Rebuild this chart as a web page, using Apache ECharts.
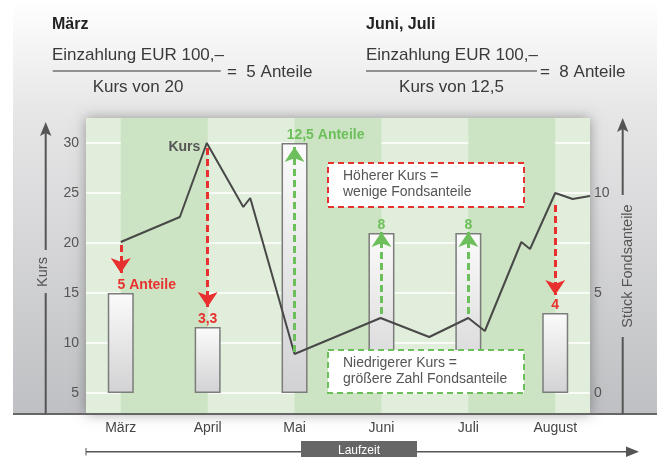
<!DOCTYPE html>
<html><head><meta charset="utf-8">
<script src="https://cdn.jsdelivr.net/npm/echarts@6/dist/echarts.min.js"></script>
<style>html,body{margin:0;padding:0;background:#fff}#c{width:657px;height:457px}</style>
</head><body><div id="c"></div>
<script>
// ---- data ----
const months = ['März', 'April', 'Mai', 'Juni', 'Juli', 'August'];
const kursX = [0, 0.68, 0.99, 1.41, 1.49, 2.0, 2.99, 3.55, 4.0, 4.19, 4.61, 4.71, 5.0, 5.2, 5.4];
const kursY = [20.1, 22.6, 30, 23.6, 24.5, 8.9, 12.5, 10.6, 12.5, 11.2, 20.1, 19.4, 25.0, 24.4, 24.7];
const anteile = [5, 3.3, 12.5, 8, 8, 4];
const anteilLabels = ['5 Anteile', '3,3', '12,5 Anteile', '8', '8', '4'];
const leftTicks = [5, 10, 15, 20, 25, 30];
const rightTicks = [0, 5, 10];
const arrowStart = [19.8, 29.5, 9.1, 12.9, 12.9, 23.8];
const arrowEnd = [17.0, 13.6, 29.6, 21.1, 21.1, 14.8];
const arrowDown = [true, true, false, false, false, true];

const RED = '#e8312f', GREEN = '#6cbf5a';
const FONT = '"Liberation Sans", Arial, sans-serif';

const chart = echarts.init(document.getElementById('c'), null, { renderer: 'canvas' });

const redLines = [], greenLines = [];
months.forEach((m, i) => {
  const item = { coords: [[i, arrowStart[i]], [i, arrowEnd[i]]] };
  (arrowDown[i] ? redLines : greenLines).push(item);
});

const bands = [];
for (let i = 0; i < 6; i += 2) bands.push([{ xAxis: i }, { xAxis: i + 1 }]);

function txt(x, y, text, font, fill, align, z) {
  return { type: 'text', x: x, y: y, z: z || 20,
    style: { text: text, font: font, fill: fill, textAlign: align || 'left', textVerticalAlign: 'middle' } };
}

const option = {
  animation: false,
  grid: { left: 86, right: 67, top: 118, bottom: 43, show: true, backgroundColor: '#e1eedb',
    borderWidth: 0, shadowBlur: 12, shadowColor: 'rgba(0,0,0,0.35)', z: -5 },
  xAxis: {
    type: 'value', min: -0.4, max: 5.4,
    axisLine: { show: false }, axisTick: { show: false }, splitLine: { show: false },
    axisLabel: { customValues: [0, 1, 2, 3, 4, 5], formatter: v => months[Math.round(v)],
      color: '#444', fontSize: 14, fontFamily: FONT, margin: 7 }
  },
  yAxis: [{
    type: 'value', min: 2.9, max: 32.5, position: 'left',
    name: 'Kurs', nameLocation: 'middle', nameRotate: 90, nameGap: 36,
    nameTextStyle: { color: '#555', fontSize: 14.5, fontFamily: FONT, padding: [0, 12, 0, 0] },
    axisLine: { show: false }, axisTick: { show: false, customValues: leftTicks },
    axisLabel: { customValues: leftTicks, color: '#555', fontSize: 14, fontFamily: FONT, margin: 7 },
    splitLine: { show: true, lineStyle: { color: '#ffffff', width: 1.5 } }
  }, {
    type: 'value', min: -1.05, max: 13.75, position: 'right',
    name: 'Stück Fondsanteile', nameLocation: 'middle', nameRotate: 90, nameGap: 26,
    nameTextStyle: { color: '#555', fontSize: 14.5, fontFamily: FONT },
    axisLine: { show: false }, axisTick: { show: false, customValues: rightTicks },
    axisLabel: { customValues: rightTicks, color: '#555', fontSize: 14, fontFamily: FONT, margin: 4 },
    splitLine: { show: false }
  }],
  series: [
    { type: 'line', data: [], z: -2, silent: true,
      markArea: { silent: true, itemStyle: { color: '#cce4c3' }, data: bands } },
    { type: 'bar', yAxisIndex: 1, barWidth: 26, z: 3,
      data: anteile.map((v, i) => ({
        value: [i, v],
        label: { color: arrowDown[i] ? RED : GREEN,
          offset: i === 0 ? [26, 0] : (i === 2 ? [31, 0] : [0, 0]) }
      })),
      itemStyle: { borderColor: '#7c7c7c', borderWidth: 1.5,
        color: new echarts.graphic.LinearGradient(0, 0, 0, 1, [
          { offset: 0, color: '#fbfbfb' }, { offset: 1, color: '#d2d2d4' }]) },
      label: { show: true, position: 'top', distance: 1, fontWeight: 'bold', fontSize: 14,
        fontFamily: FONT, formatter: p => anteilLabels[p.dataIndex] }
    },
    { type: 'line', yAxisIndex: 0, z: 4, showSymbol: false, symbol: 'none',
      data: kursX.map((x, i) => [x, kursY[i]]),
      lineStyle: { color: '#484848', width: 2 },
      markPoint: { silent: true, symbol: 'circle', symbolSize: 1, itemStyle: { color: 'rgba(0,0,0,0)' },
        data: [{ coord: [kursX[2], kursY[2]] }],
        label: { show: true, position: 'left', distance: 6, offset: [0, 4], formatter: 'Kurs',
          color: '#555', fontWeight: 'bold', fontSize: 14, fontFamily: FONT } }
    },
    { type: 'lines', coordinateSystem: 'cartesian2d', z: 5, data: redLines,
      symbol: ['none', 'arrow'], symbolSize: [13, 15],
      lineStyle: { color: RED, width: 3, type: [7, 4], opacity: 1 } },
    { type: 'lines', coordinateSystem: 'cartesian2d', z: 5, data: greenLines,
      symbol: ['none', 'arrow'], symbolSize: [13, 15],
      lineStyle: { color: GREEN, width: 3, type: [7, 4], opacity: 1 } }
  ],
  graphic: [
    { type: 'rect', z: -10, shape: { x: 13, y: 0, width: 644, height: 414 },
      style: { fill: new echarts.graphic.LinearGradient(0, 0, 0, 1, [
        { offset: 0, color: '#ffffff' }, { offset: 0.26, color: '#e7e7e8' }, { offset: 1, color: '#bfc0c3' }]) } },
    { type: 'line', z: 20, shape: { x1: 13, y1: 414, x2: 657, y2: 414 }, style: { stroke: '#666', lineWidth: 2 } },
    // left axis arrow
    { type: 'line', z: 20, shape: { x1: 45.7, y1: 132, x2: 45.7, y2: 250 }, style: { stroke: '#555', lineWidth: 2 } },
    { type: 'line', z: 20, shape: { x1: 45.7, y1: 293, x2: 45.7, y2: 414 }, style: { stroke: '#555', lineWidth: 2 } },
    { type: 'polygon', z: 20, shape: { points: [[45.7, 122], [40, 136], [45.7, 133], [51.4, 136]] }, style: { fill: '#555' } },
    // right axis arrow
    { type: 'line', z: 20, shape: { x1: 622.7, y1: 128, x2: 622.7, y2: 195 }, style: { stroke: '#555', lineWidth: 2 } },
    { type: 'line', z: 20, shape: { x1: 622.7, y1: 337, x2: 622.7, y2: 414 }, style: { stroke: '#555', lineWidth: 2 } },
    { type: 'polygon', z: 20, shape: { points: [[622.7, 118], [617, 132], [622.7, 129], [628.4, 132]] }, style: { fill: '#555' } },
    // header formulas
    txt(52, 25, 'März', 'bold 16px ' + FONT, '#222'),
    txt(52, 55, 'Einzahlung EUR 100,–', '17px ' + FONT, '#3a3a3a'),
    { type: 'line', z: 20, shape: { x1: 52.7, y1: 71, x2: 220.7, y2: 71 }, style: { stroke: '#333', lineWidth: 1.2 } },
    txt(227, 72.7, '=  5 Anteile', '17px ' + FONT, '#3a3a3a'),
    txt(138, 87, 'Kurs von 20', '17px ' + FONT, '#3a3a3a', 'center'),
    txt(366, 25, 'Juni, Juli', 'bold 16px ' + FONT, '#222'),
    txt(366, 55, 'Einzahlung EUR 100,–', '17px ' + FONT, '#3a3a3a'),
    { type: 'line', z: 20, shape: { x1: 366, y1: 71, x2: 537, y2: 71 }, style: { stroke: '#333', lineWidth: 1.2 } },
    txt(540, 72.7, '=  8 Anteile', '17px ' + FONT, '#3a3a3a'),
    txt(451.5, 87, 'Kurs von 12,5', '17px ' + FONT, '#3a3a3a', 'center'),
    // annotation boxes
    { type: 'rect', z: 20, shape: { x: 328, y: 163, width: 196, height: 44 },
      style: { fill: '#ffffff', stroke: RED, lineWidth: 2, lineDash: [6, 4] } },
    txt(343, 176, 'Höherer Kurs =', '14px ' + FONT, '#555', 'left', 21),
    txt(343, 192, 'wenige Fondsanteile', '14px ' + FONT, '#555', 'left', 21),
    { type: 'rect', z: 20, shape: { x: 328, y: 350, width: 196, height: 43 },
      style: { fill: '#ffffff', stroke: GREEN, lineWidth: 2, lineDash: [6, 4] } },
    txt(343, 363, 'Niedrigerer Kurs =', '14px ' + FONT, '#555', 'left', 21),
    txt(343, 379, 'größere Zahl Fondsanteile', '14px ' + FONT, '#555', 'left', 21),
    // bottom time arrow
    { type: 'line', z: 20, shape: { x1: 86, y1: 451.7, x2: 628, y2: 451.7 }, style: { stroke: '#555', lineWidth: 1.5 } },
    { type: 'line', z: 20, shape: { x1: 86, y1: 448, x2: 86, y2: 455.5 }, style: { stroke: '#555', lineWidth: 1 } },
    { type: 'polygon', z: 20, shape: { points: [[639, 451.7], [626, 446.5], [626, 457]] }, style: { fill: '#555' } },
    { type: 'rect', z: 21, shape: { x: 301, y: 441, width: 116, height: 17 }, style: { fill: '#666' } },
    txt(359, 451, 'Laufzeit', '12px ' + FONT, '#ffffff', 'center', 22)
  ]
};
chart.setOption(option);
</script>
</body></html>
